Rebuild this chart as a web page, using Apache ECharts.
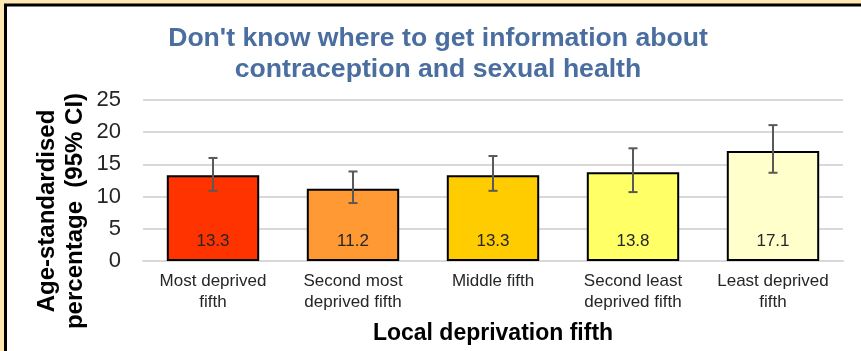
<!DOCTYPE html>
<html>
<head>
<meta charset="utf-8">
<script src="https://cdn.jsdelivr.net/npm/echarts@6/dist/echarts.min.js"></script>
<style>
  html, body { margin: 0; padding: 0; background: #FFE8B3; }
  #chart { width: 861px; height: 351px; }
</style>
</head>
<body>
<div id="chart"></div>
<script>
// Deprivation fifths and their age-standardised percentages with 95% CI
const categories = [
  'Most deprived\nfifth',
  'Second most\ndeprived fifth',
  'Middle fifth',
  'Second least\ndeprived fifth',
  'Least deprived\nfifth'
];
const values = [13.3, 11.2, 13.3, 13.8, 17.1];
const lowerCI = [10.9, 9.0, 10.9, 10.7, 13.7];
const upperCI = [16.0, 13.9, 16.3, 17.5, 21.1];
const barColors = ['#FF3300', '#FF9933', '#FFCC00', '#FFFF66', '#FFFFCC'];
const yTicks = { min: 0, max: 25, interval: 5 };

const chart = echarts.init(document.getElementById('chart'), null, { renderer: 'canvas' });

const option = {
  backgroundColor: '#FFE8B3',
  animation: false,
  title: {
    text: "Don't know where to get information about\ncontraception and sexual health",
    left: 433,
    top: 18,
    textAlign: 'center',
    textStyle: {
      fontFamily: 'Arial, "Liberation Sans", sans-serif',
      fontSize: 26.6,
      fontWeight: 'bold',
      color: '#4A6E9F',
      lineHeight: 31
    }
  },
  graphic: [
    {
      type: 'rect',
      z: -100,
      silent: true,
      shape: { x: 5.5, y: 5, width: 1000, height: 1000 },
      style: { fill: '#FFFFFF', stroke: '#000000', lineWidth: 3 }
    },
    {
      type: 'text',
      x: 61,
      y: 211,
      rotation: Math.PI / 2,
      silent: true,
      style: {
        text: 'Age-standardised\npercentage  (95% CI)',
        font: 'bold 24px Arial, "Liberation Sans", sans-serif',
        fill: '#000000',
        textAlign: 'center',
        textVerticalAlign: 'middle',
        lineHeight: 28
      }
    }
  ],
  grid: { left: 143, right: 18, top: 100, bottom: 90, containLabel: false },
  xAxis: {
    type: 'category',
    data: categories,
    name: 'Local deprivation fifth',
    nameLocation: 'middle',
    nameGap: 61,
    nameTextStyle: {
      fontFamily: 'Arial, "Liberation Sans", sans-serif',
      fontSize: 23,
      fontWeight: 'bold',
      color: '#000000'
    },
    axisLine: { lineStyle: { color: '#D9D9D9', width: 2 } },
    axisTick: { show: false },
    axisLabel: {
      margin: 10,
      fontFamily: 'Arial, "Liberation Sans", sans-serif',
      fontSize: 17,
      lineHeight: 21,
      color: '#262626',
      interval: 0
    }
  },
  yAxis: {
    type: 'value',
    min: yTicks.min,
    max: yTicks.max,
    interval: yTicks.interval,
    axisLine: { show: false },
    axisTick: { show: false },
    axisLabel: {
      margin: 22,
      fontFamily: 'Arial, "Liberation Sans", sans-serif',
      fontSize: 22,
      color: '#262626'
    },
    splitLine: { lineStyle: { color: '#D9D9D9', width: 2 } }
  },
  series: [
    {
      type: 'bar',
      barWidth: '66%',
      data: values.map((v, i) => ({
        value: v,
        itemStyle: { color: barColors[i] }
      })),
      itemStyle: { borderColor: '#000000', borderWidth: 2 },
      label: {
        show: true,
        position: 'insideBottom',
        distance: 11,
        fontFamily: 'Arial, "Liberation Sans", sans-serif',
        fontSize: 17,
        color: '#262626',
        formatter: p => p.value.toFixed(1)
      },
      z: 2
    },
    {
      type: 'custom',
      z: 5,
      silent: true,
      data: values.map((v, i) => [i, lowerCI[i], upperCI[i]]),
      renderItem: function (params, api) {
        const x = api.value(0);
        const lo = api.coord([x, api.value(1)]);
        const hi = api.coord([x, api.value(2)]);
        const cap = 4.5;
        const style = { stroke: '#595959', lineWidth: 2 };
        return {
          type: 'group',
          children: [
            { type: 'line', shape: { x1: lo[0], y1: lo[1], x2: hi[0], y2: hi[1] }, style },
            { type: 'line', shape: { x1: hi[0] - cap, y1: hi[1], x2: hi[0] + cap, y2: hi[1] }, style },
            { type: 'line', shape: { x1: lo[0] - cap, y1: lo[1], x2: lo[0] + cap, y2: lo[1] }, style }
          ]
        };
      }
    }
  ]
};

chart.setOption(option);
</script>
</body>
</html>
